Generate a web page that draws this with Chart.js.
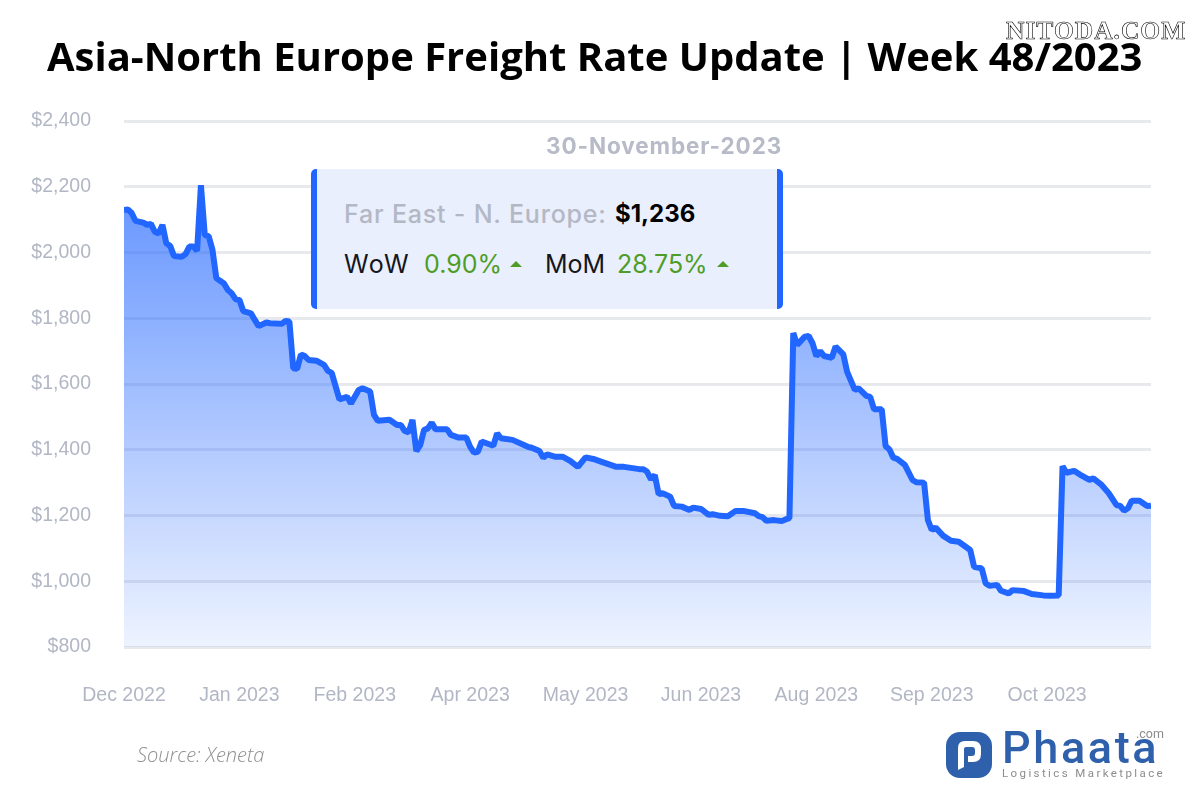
<!DOCTYPE html>
<html>
<head>
<meta charset="utf-8">
<title>Asia-North Europe Freight Rate Update</title>
<script src="https://cdn.jsdelivr.net/npm/chart.js@4"></script>
<style>
html, body { margin: 0; padding: 0; background: #fff; }
#stage { position: relative; width: 1200px; height: 800px; overflow: hidden; font-family: "Open Sans", sans-serif; }
#stage > * { position: absolute; white-space: nowrap; margin: 0; }
canvas { left: 0; top: 0; }
#title { left: 47px; top: 29px; font-size: 40px; line-height: 54px; font-weight: 700; color: #000; }
#stamp { left: 1006px; top: 17px; font: 700 25.5px/28px "Liberation Serif", serif; letter-spacing: 1px; color: #fff; -webkit-text-stroke: 0.6px #000; }
#date { left: 546px; top: 131px; font: 700 22.5px/30px Inter, sans-serif; letter-spacing: 0.9px; color: #b7bbc8; }
#card { left: 311px; top: 169px; width: 460px; height: 140px; background: #e9effd; border-left: 6px solid #2166ff; border-right: 6px solid #2166ff; border-radius: 5px; }
#card span { position: absolute; font: 400 25px/30px Inter, sans-serif; white-space: nowrap; }
.grey { color: #b4b8c5; }
.dark { color: #14161c; }
.green { color: #4f9d26; }
.up { width: 0; height: 0; border-left: 6.5px solid transparent; border-right: 6.5px solid transparent; border-bottom: 6px solid #4f9d26; }
#source { left: 137px; top: 741px; font-size: 20px; line-height: 28px; font-style: italic; font-weight: 300; color: #8f8f8f; }
#brand { left: 1002px; top: 722px; font: 500 45px/52px Roboto, sans-serif; color: #2f60ab; letter-spacing: 2.6px; }
#dotcom { left: 1136px; top: 727px; font: 400 12.5px/14px Roboto, sans-serif; color: #8c8c8c; }
#tagline { left: 1002px; top: 766px; font: 400 11.5px/15px Roboto, sans-serif; color: #8c8c8c; letter-spacing: 2.4px; }
#mark { left: 946px; top: 732px; }
</style>
</head>
<body>
<div id="stage">
  <canvas id="rateChart" width="1200" height="800"></canvas>
  <h1 id="title">Asia-North Europe Freight Rate Update | Week 48/2023</h1>
  <div id="stamp">NITODA.COM</div>
  <div id="date">30-November-2023</div>
  <div id="card">
    <span class="grey" style="left:27px;top:30px;letter-spacing:0.8px;font-weight:500">Far East - N. Europe:</span>
    <span style="left:298px;top:30px;font-weight:700;color:#000;font-size:24px">$1,236</span>
    <span class="dark" style="left:27px;top:80px;letter-spacing:1.5px">WoW</span>
    <span class="green" style="left:107px;top:80px">0.90%</span>
    <span class="up" style="left:193px;top:92px"></span>
    <span class="dark" style="left:228px;top:80px">MoM</span>
    <span class="green" style="left:300px;top:80px">28.75%</span>
    <span class="up" style="left:400px;top:92px"></span>
  </div>
  <div id="source">Source: Xeneta</div>
  <svg id="mark" width="46" height="46" viewBox="0 0 46 46">
    <rect width="46" height="46" rx="14" fill="#2f60ab"/>
    <path d="M12 38V16q0-7 7-7h8q8 0 8 8v5q0 8-8 8h-5v-6h4q3 0 3-3v-3q0-3-3-3h-6q-2 0-2 2v18z" fill="#fff"/>
  </svg>
  <div id="brand">Phaata</div>
  <div id="dotcom">.com</div>
  <div id="tagline">Logistics Marketplace</div>
</div>
<script>
// --- Data ---
const tickLabels = ['Dec 2022', 'Jan 2023', 'Feb 2023', 'Apr 2023', 'May 2023', 'Jun 2023', 'Aug 2023', 'Sep 2023', 'Oct 2023'];
const tickEvery = 30; // trading days between labels
const lastDay = 267;

const tradingDay = [
  0, 1, 2, 3, 5, 6, 7, 8, 9, 10, 11, 12, 13, 15, 16, 17, 18, 19, 20, 21, 22, 23, 24, 26, 27, 28, 29, 30, 31, 33, 34, 35,
  37, 38, 41, 42, 43, 44, 45, 46, 47, 48, 50, 52, 53, 54, 56, 58, 59, 61, 62, 64, 65, 66, 69, 71, 72, 73, 74, 75, 76, 77,
  78, 79, 80, 81, 84, 85, 87, 89, 90, 91, 92, 93, 96, 97, 98, 101, 105, 106, 108, 109, 110, 112, 114, 116, 118, 120, 122, 124, 128, 130,
  134, 135, 136, 137, 138, 139, 140, 142, 143, 145, 147, 148, 150, 152, 153, 155, 157, 159, 161, 164, 165, 166, 167, 169, 171, 172, 173, 174, 175, 177,
  178, 179, 180, 181, 182, 184, 185, 187, 188, 190, 191, 193, 194, 195, 197, 198, 199, 200, 201, 203, 205, 206, 208, 209, 210, 211, 213, 215, 217, 220,
  221, 223, 224, 225, 227, 228, 230, 231, 234, 236, 239, 241, 243, 244, 245, 247, 249, 251, 252, 254, 256, 258, 259, 260, 261, 262, 264, 266, 267
];
const freightRate = [
  2129, 2131, 2120, 2096, 2091, 2084, 2087, 2063, 2058, 2084, 2028, 2020, 1989, 1987, 1995, 2018, 2018, 2005, 2205, 2053, 2050, 2008, 1922, 1906, 1886, 1876, 1858, 1856, 1822, 1815, 1795, 1776,
  1787, 1785, 1783, 1792, 1790, 1648, 1646, 1690, 1685, 1673, 1671, 1658, 1640, 1634, 1553, 1561, 1541, 1582, 1587, 1577, 1506, 1488, 1491, 1475, 1475, 1457, 1453, 1491, 1396, 1414,
  1460, 1465, 1482, 1462, 1462, 1445, 1437, 1437, 1409, 1391, 1394, 1425, 1412, 1450, 1435, 1430, 1409, 1406, 1396, 1376, 1386, 1379, 1379, 1366, 1348, 1377, 1372, 1364, 1348, 1348,
  1341, 1341, 1333, 1310, 1323, 1265, 1268, 1257, 1229, 1227, 1217, 1224, 1220, 1202, 1204, 1199, 1198, 1214, 1214, 1207, 1198, 1195, 1184, 1186, 1183, 1188, 1192, 1755, 1719, 1744,
  1746, 1724, 1685, 1700, 1685, 1680, 1714, 1690, 1637, 1582, 1587, 1564, 1561, 1523, 1523, 1411, 1401, 1376, 1372, 1354, 1308, 1301, 1300, 1186, 1156, 1163, 1138, 1123, 1120, 1095,
  1044, 1039, 994, 986, 989, 971, 963, 973, 970, 961, 957, 956, 957, 1350, 1330, 1336, 1321, 1308, 1313, 1295, 1268, 1232, 1229, 1215, 1222, 1245, 1245, 1229, 1230
];

// --- Chart ---
const axisFont = { family: "'Liberation Sans', Arial, sans-serif", size: 19.5 };
const axisColor = '#b2b7c5';

function areaGradient(context) {
  const { ctx, chartArea } = context.chart;
  if (!chartArea) return 'rgba(33,102,255,0.4)';
  const gradient = ctx.createLinearGradient(0, chartArea.top, 0, chartArea.bottom);
  gradient.addColorStop(0, 'rgba(33,102,255,0.78)');
  gradient.addColorStop(1, 'rgba(33,102,255,0.08)');
  return gradient;
}

new Chart(document.getElementById('rateChart'), {
  type: 'line',
  data: {
    datasets: [{
      label: 'Far East - N. Europe',
      data: tradingDay.map((day, i) => ({ x: day, y: freightRate[i] })),
      borderColor: '#2166ff',
      borderWidth: 6,
      borderJoinStyle: 'bevel',
      backgroundColor: areaGradient,
      fill: 'start',
      pointRadius: 0,
      tension: 0
    }]
  },
  options: {
    responsive: false,
    animation: false,
    layout: { padding: { top: 121, left: 0, right: 49, bottom: 0 } },
    plugins: { legend: { display: false }, tooltip: { enabled: false } },
    scales: {
      x: {
        type: 'linear',
        min: 0,
        max: lastDay,
        afterFit: scale => { scale.height = 153; },
        afterBuildTicks: scale => { scale.ticks = scale.ticks.filter(t => t.value % tickEvery === 0); },
        grid: { display: false },
        border: { display: false },
        ticks: {
          stepSize: tickEvery,
          padding: 29,
          maxRotation: 0,
          autoSkip: false,
          color: axisColor,
          font: axisFont,
          callback: value => tickLabels[value / tickEvery]
        }
      },
      y: {
        min: 800,
        max: 2400,
        afterFit: scale => { scale.width = 124; },
        grid: { color: '#e8e9ed', lineWidth: 3, drawTicks: false },
        border: { display: false },
        ticks: {
          stepSize: 200,
          padding: 33,
          color: axisColor,
          font: axisFont,
          callback: value => '$' + value.toLocaleString('en-US')
        }
      }
    }
  }
});
</script>
</body>
</html>
